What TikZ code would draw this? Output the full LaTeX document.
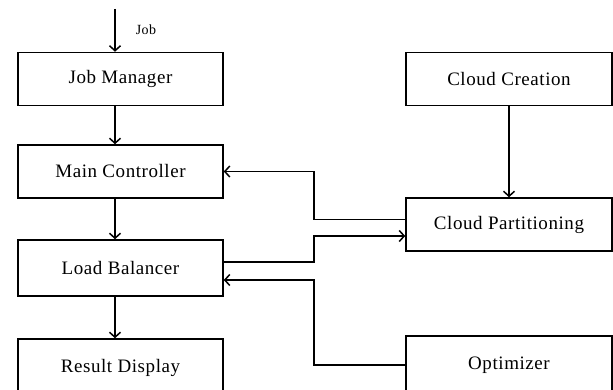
\documentclass[tikz,border=0pt]{standalone}
\usepackage{fontspec}
\setmainfont[LetterSpace=3]{Liberation Serif}
\usetikzlibrary{arrows.meta}
\begin{document}
\begin{tikzpicture}[x=1pt,y=1pt,
  box/.style={draw, line width=1.5pt, minimum width=205pt, minimum height=53pt, inner sep=0pt, font=\fontsize{19}{22}\selectfont},
  arr/.style={line width=1.5pt, -{Straight Barb[length=5pt,width=11pt,line width=1.5pt]}},
  conn/.style={line width=1.5pt}]
\useasboundingbox (0,0) rectangle (613,389);
\clip (0,0) rectangle (613,389);
\node[box] (jm) at (120.5,310) {Job Manager};
\node[box] (mc) at (120.5,217.5) {Main Controller};
\node[box, minimum height=56pt] (lb) at (120.5,121) {Load Balancer};
\node[box, minimum height=58pt] (rd) at (120.5,21) {Result Display};
\node[box, minimum width=206pt] (cc) at (509,310) {Cloud Creation};
\node[box, minimum width=206pt] (cp) at (509,164.5) {Cloud Partitioning};
\node[box, minimum width=206pt, minimum height=58pt] (op) at (509,24) {Optimizer};
\coordinate (jobin) at (115,380);
\node[font=\fontsize{14}{16}\selectfont] (joblbl) at (146,359) {Job};
\draw[arr] (jobin) -- (jobin |- jm.north);
\draw[arr] ([xshift=-5.5pt]jm.south) -- ([xshift=-5.5pt]mc.north);
\draw[arr] ([xshift=-5.5pt]mc.south) -- ([xshift=-5.5pt]lb.north);
\draw[arr] ([xshift=-5.5pt]lb.south) -- ([xshift=-5.5pt]rd.north);
\draw[arr] (cc.south) -- (cp.north);
\draw[arr] ([yshift=5pt]cp.west) -- (314,169.5) |- (mc.east);
\draw[arr] ([yshift=6pt]lb.east) -- (314,127) |- ([yshift=-11.5pt]cp.west);
\draw[arr] (op.west) -- (314,24) |- ([yshift=-12pt]lb.east);
\end{tikzpicture}
\end{document}
